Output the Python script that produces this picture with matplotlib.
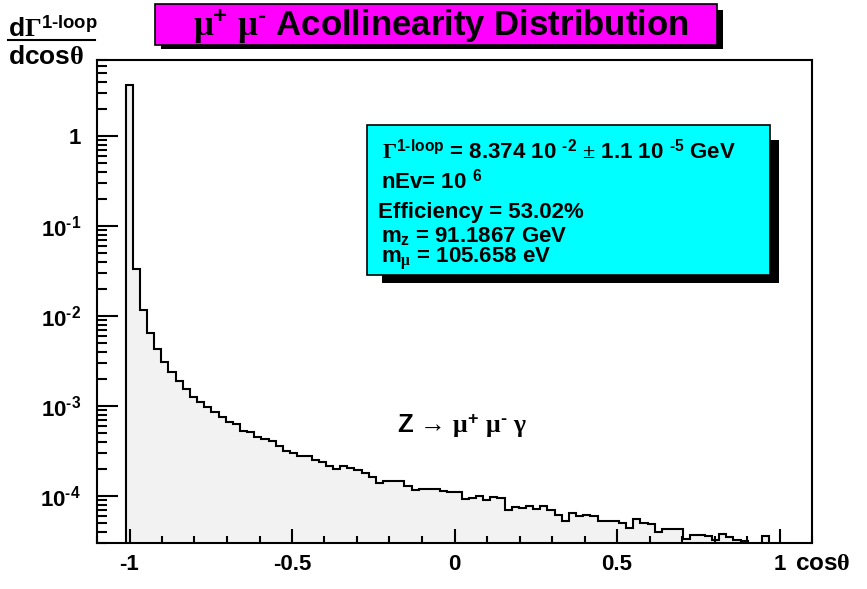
import numpy as np
import matplotlib
matplotlib.use("Agg")
import matplotlib.pyplot as plt
from matplotlib.patches import Rectangle
from matplotlib.lines import Line2D
from matplotlib.transforms import Affine2D
from matplotlib.ticker import LogLocator, MultipleLocator, FuncFormatter, NullFormatter

plt.rcParams["font.family"] = ["Liberation Sans", "DejaVu Sans"]
plt.rcParams["font.weight"] = "bold"
plt.rcParams["axes.unicode_minus"] = False
plt.rcParams["mathtext.fontset"] = "custom"
plt.rcParams["mathtext.rm"] = "Liberation Serif"
plt.rcParams["mathtext.it"] = "Liberation Serif:italic"
plt.rcParams["mathtext.bf"] = "Liberation Sans:bold"
plt.rcParams["mathtext.sf"] = "Liberation Sans:bold"

W, H = 867, 589

# histogram binning: 100 bins in cos(theta) over [-1.1, 1.1]
N_BINS = 100
X_LOW, X_HIGH = -1.1, 1.1
Y_LOW, Y_HIGH = 2.98e-5, 7.08

# dGamma/dcos(theta), one value per bin (0 = empty bin)
ACOLL = [
    0.0, 0.0, 0.0, 0.0, 3.69,
    0.0333, 0.0118, 0.00643, 0.00430, 0.00310,
    0.00240, 0.00190, 0.00155, 0.00127, 0.00110,
    0.000968, 0.000852, 0.000749, 0.000669, 0.000623,
    0.000534, 0.000510, 0.000456, 0.000427, 0.000409,
    0.000362, 0.000319, 0.000303, 0.000278, 0.000278,
    0.000251, 0.000237, 0.000217, 0.000198, 0.000216,
    0.000203, 0.000195, 0.000182, 0.000164, 0.000141,
    0.000148, 0.000148, 0.000148, 0.000130, 0.000117,
    0.000120, 0.000120, 0.000120, 0.000114, 0.000112,
    0.000112, 9.19e-5, 9.38e-5, 9.93e-5, 9.03e-5,
    9.62e-5, 9.38e-5, 6.99e-5, 7.55e-5, 7.36e-5,
    7.68e-5, 7.10e-5, 7.66e-5, 6.99e-5, 6.07e-5,
    5.27e-5, 6.47e-5, 5.95e-5, 6.15e-5, 5.93e-5,
    5.27e-5, 5.34e-5, 5.23e-5, 5.04e-5, 4.38e-5,
    5.48e-5, 4.95e-5, 4.86e-5, 4.01e-5, 4.27e-5,
    4.27e-5, 4.27e-5, 3.29e-5, 3.69e-5, 3.65e-5,
    3.59e-5, 3.24e-5, 3.78e-5, 3.53e-5, 3.24e-5,
    3.20e-5, 0.0, 0.0, 3.56e-5, 0.0,
    0.0, 0.0, 0.0, 0.0, 0.0,
]

# short hyphen (U+2010) keeps mathtext from turning "-" into a wide minus
HY = "\u2010"

TITLE = r"$\mathrm{\mu}^{\mathbf{+}}\ \mathrm{\mu}^{\mathbf{" + HY + r"}}$ Acollinearity Distribution"
STATS_LINES = [
    r"$\mathrm{\Gamma}^{\mathbf{1" + HY + r"loop}}$ = 8.374 10 $^{\mathbf{" + HY + r"2}}$ "
    r"$\mathrm{\pm}$ 1.1 10 $^{\mathbf{" + HY + r"5}}$ GeV",
    r"nEv= 10 $^{\mathbf{6}}$",
    "Efficiency = 53.02%",
    r"m$_{\mathbf{z}}$ = 91.1867 GeV",
    r"m$_{\mathrm{\mu}}$ = 105.658 eV",
]
PROCESS = r"Z $\mathrm{→}$ $\mathrm{\mu}^{\mathbf{+}}\ \mathrm{\mu}^{\mathbf{" + HY + r"}}\ \mathrm{\gamma}$"
Y_TITLE_TOP = r"d$\mathrm{\Gamma}^{\mathbf{1" + HY + r"loop}}$"
Y_TITLE_BOTTOM = r"dcos$\mathrm{\theta}$"
X_TITLE = r"cos$\mathrm{\theta}$"


def y_label(value, _pos):
    if abs(value - 1.0) < 1e-9:
        return "1"
    exp = round(np.log10(value))
    sign = HY if exp < 0 else ""
    return r"$\mathbf{10^{" + sign + str(abs(exp)) + r"}}$"


fig = plt.figure(figsize=(W / 100, H / 100), dpi=100)
fig.patch.set_facecolor("white")
# pixel coordinates measured from the top-left corner
pix = Affine2D().scale(1 / W, -1 / H).translate(0, 1) + fig.transFigure

ax_l, ax_r, ax_t, ax_b = 97, 812, 59.5, 543.3
ax = fig.add_axes([ax_l / W, 1 - ax_b / H, (ax_r - ax_l) / W, (ax_b - ax_t) / H])

edges = np.linspace(X_LOW, X_HIGH, N_BINS + 1)
vals = np.array(ACOLL)
floor = Y_LOW * 1e-3
shown = np.where(vals > 0, vals, floor)
ax.stairs(shown, edges, baseline=floor, fill=True, color="#f2f2f2", lw=0, zorder=1)
ax.stairs(shown, edges, baseline=floor, color="black", lw=1.5, zorder=2)

ax.set_yscale("log")
ax.set_xlim(X_LOW, X_HIGH)
ax.set_ylim(Y_LOW, Y_HIGH)

ax.yaxis.set_major_locator(LogLocator(base=10, numticks=20))
ax.yaxis.set_minor_locator(LogLocator(base=10, subs=np.arange(2, 10), numticks=20))
ax.yaxis.set_major_formatter(FuncFormatter(y_label))
ax.yaxis.set_minor_formatter(NullFormatter())

ax.xaxis.set_major_locator(MultipleLocator(0.5))
ax.xaxis.set_minor_locator(MultipleLocator(0.1))
ax.xaxis.set_major_formatter(FuncFormatter(lambda v, p: "%g" % v))

ax.tick_params(axis="y", which="major", direction="in", length=15, width=1.5,
               pad=11.5, labelsize=16, right=False)
ax.tick_params(axis="y", which="minor", direction="in", length=7.5, width=1.5, right=False)
ax.tick_params(axis="x", which="major", direction="in", length=10, width=1.5,
               pad=8, labelsize=16, top=False)
ax.tick_params(axis="x", which="minor", direction="in", length=5, width=1.5, top=False)
for lab in ax.get_xticklabels() + ax.get_yticklabels():
    lab.set_fontweight("bold")
for side in ["left", "bottom", "top", "right"]:
    ax.spines[side].set_linewidth(1.5)

# title pave with shadow
fig.add_artist(Rectangle((161, 10), 562, 39, transform=pix, facecolor="black", edgecolor="none"))
fig.add_artist(Rectangle((155, 4), 562, 41, transform=pix, facecolor="#ff00ff",
                         edgecolor="black", lw=1.2))
fig.text(441, 36.5, TITLE, transform=pix, ha="center", va="baseline", fontsize=25)

# statistics pave with shadow
fig.add_artist(Rectangle((381.7, 140), 397.3, 143, transform=pix, facecolor="black",
                         edgecolor="none"))
fig.add_artist(Rectangle((366.7, 125), 403.3, 150, transform=pix, facecolor="#00ffff",
                         edgecolor="black", lw=1.2))
stats_pos = [(381.7, 158), (380.7, 188), (378.3, 217.7), (380.7, 241.7), (380.7, 263.3)]
for (x, y), line in zip(stats_pos, STATS_LINES):
    fig.text(x, y, line, transform=pix, ha="left", va="baseline", fontsize=16)

fig.text(396.7, 433, PROCESS, transform=pix, ha="left", va="baseline", fontsize=18.5)

# axis titles
fig.text(8, 36.7, Y_TITLE_TOP, transform=pix, ha="left", va="baseline", fontsize=19)
fig.add_artist(Line2D([8, 95], [39.5, 39.5], transform=pix, color="black", lw=1.5))
fig.text(8, 64.3, Y_TITLE_BOTTOM, transform=pix, ha="left", va="baseline", fontsize=19)
fig.text(795, 570, X_TITLE, transform=pix, ha="left", va="baseline", fontsize=17.5)

fig.savefig("out.png", dpi=100)
